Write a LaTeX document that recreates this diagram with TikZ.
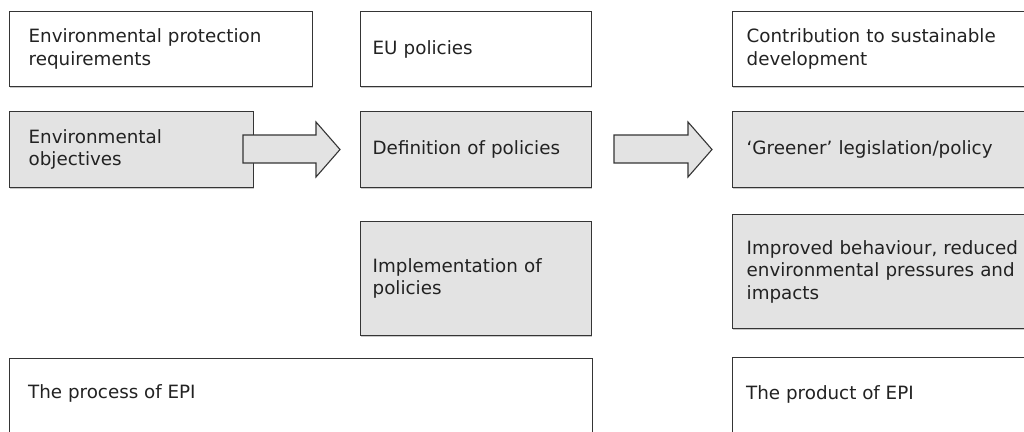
\documentclass[tikz,border=0pt]{standalone}
\usepackage{fontspec}
\setmainfont{DejaVu Sans}
\usetikzlibrary{shadows}
\definecolor{bordc}{HTML}{353535}
\definecolor{fillc}{HTML}{E3E3E3}
\definecolor{txtc}{HTML}{222222}
\begin{document}
\begin{tikzpicture}[x=1pt,y=-1pt,
  box/.style={draw=bordc, line width=1.3pt, anchor=north west, inner ysep=0pt,
    align=left, text=txtc, font=\fontsize{18.3}{22.5}\selectfont,
    drop shadow={shadow xshift=0.8pt, shadow yshift=-1.2pt, fill=black!35, opacity=0.6}},
  wbox/.style={box, fill=white},
  gbox/.style={box, fill=fillc},
  txt/.style={anchor=west, inner sep=0pt, align=left, text=txtc, font=\fontsize{18.3}{22.5}\selectfont},
  blockarrow/.style={draw=bordc, line width=1.1pt, fill=fillc}]
\clip (0,0) rectangle (1024,431);
\fill[white] (0,0) rectangle (1024,431);
% top row
\node[wbox, inner xsep=19pt, minimum width=303pt, minimum height=75pt, text width=265pt] (epr) at (9,11)
  {Environmental protection\\requirements};
\node[wbox, inner xsep=12pt, minimum width=231pt, minimum height=75pt, text width=207pt] (eu) at (360,11)
  {EU policies};
\node[wbox, inner xsep=14pt, minimum width=330pt, minimum height=75pt, text width=302pt] (csd) at (732,11)
  {Contribution to sustainable\\development};
% second row
\node[gbox, inner xsep=19pt, minimum width=244pt, minimum height=76pt, text width=206pt] (eo) at (9,111)
  {Environmental\\objectives};
\node[gbox, inner xsep=12pt, minimum width=231pt, minimum height=76pt, text width=207pt] (dp) at (360,111)
  {Definition of policies};
\node[gbox, inner xsep=14pt, minimum width=330pt, minimum height=76pt, text width=302pt] (gl) at (732,111)
  {`Greener' legislation/policy};
% third row
\node[gbox, inner xsep=12pt, minimum width=231pt, minimum height=114pt, text width=207pt] (ip) at (360,221)
  {Implementation of\\policies};
\node[gbox, inner xsep=14pt, minimum width=330pt, minimum height=114pt, text width=302pt] (ib) at (732,214)
  {Improved behaviour, reduced\\environmental pressures and\\impacts};
% bottom row
\node[wbox, inner xsep=0pt, minimum width=583pt, minimum height=120pt] (pe) at (9,358) {};
\node[txt] (pet) at (28,393) {The process of EPI};
\node[wbox, inner xsep=0pt, minimum width=330pt, minimum height=120pt] (pr) at (732,357) {};
\node[txt] (prt) at (746,394) {The product of EPI};
% block arrows
\draw[blockarrow] (243,135) -- (316,135) -- (316,122) -- (340,149.5) -- (316,177) -- (316,163) -- (243,163) -- cycle;
\draw[blockarrow] (614,135) -- (688,135) -- (688,122) -- (712,149.5) -- (688,177) -- (688,163) -- (614,163) -- cycle;
\end{tikzpicture}
\end{document}
